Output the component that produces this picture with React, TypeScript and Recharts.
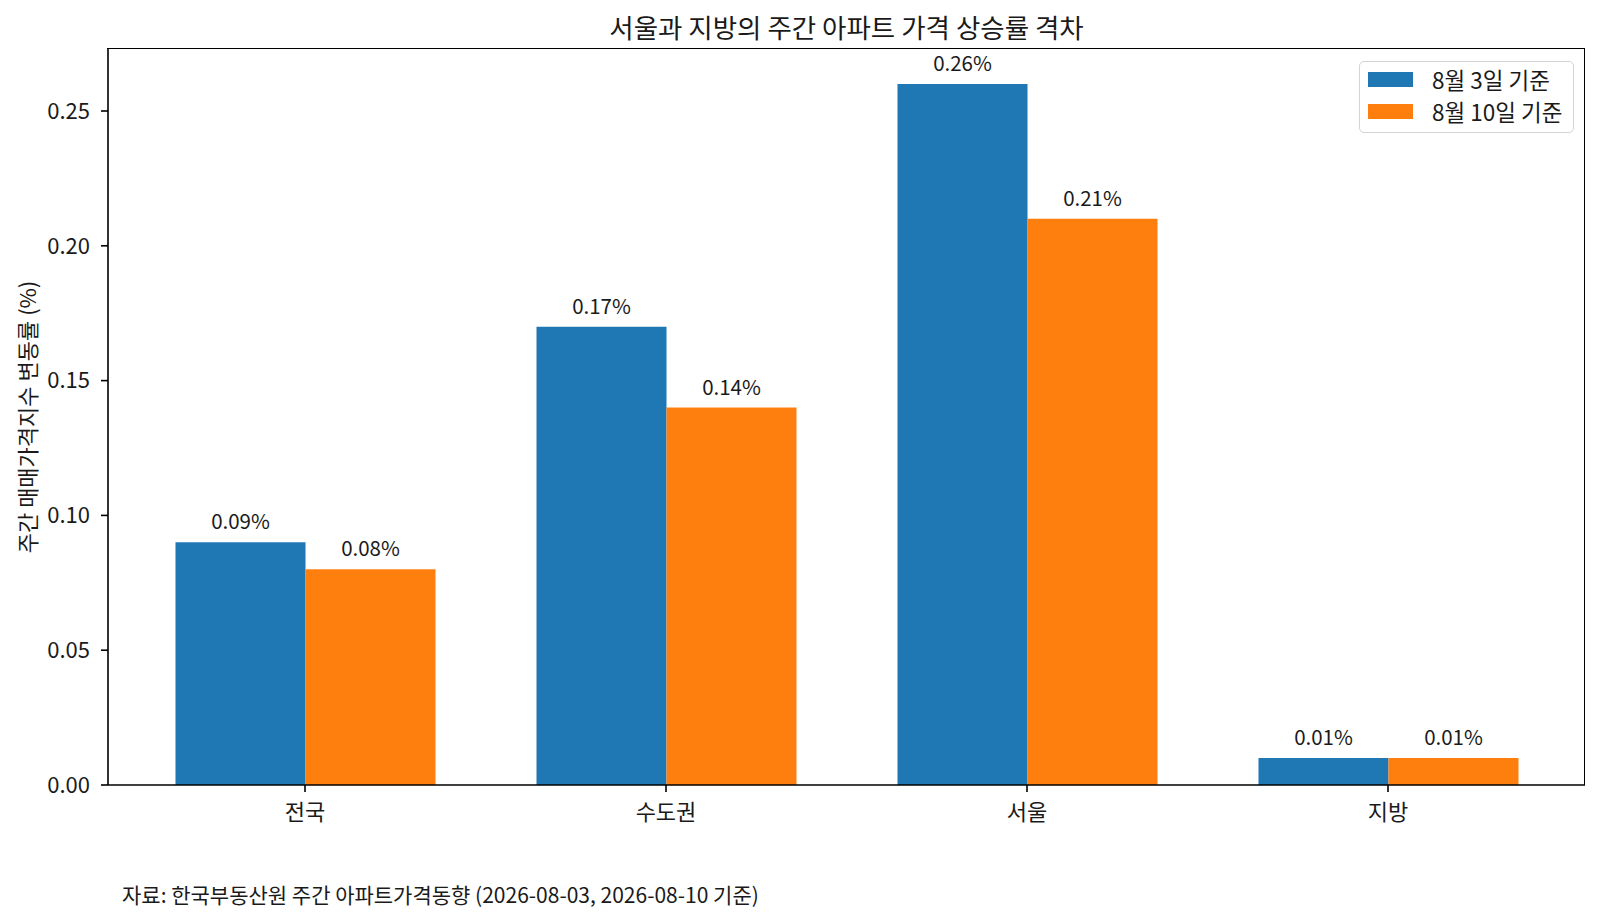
import React from 'react';
import { BarChart, Bar, XAxis, YAxis, LabelList } from 'recharts';

const regions = ['전국', '수도권', '서울', '지방'];
const aug3Values = [0.09, 0.17, 0.26, 0.01];
const aug10Values = [0.08, 0.14, 0.21, 0.01];
const yTicks = [0, 0.05, 0.1, 0.15, 0.2, 0.25];
const seriesNames = ['8월 3일 기준', '8월 10일 기준'];

const BLUE = '#1f77b4';
const ORANGE = '#ff7f0e';
const FONT = '"Noto Sans CJK KR", "Noto Sans", sans-serif';
const TEXT = '#1a1a1a';

const chartData = regions.map((name, i) => ({
  name,
  aug3: aug3Values[i],
  aug10: aug10Values[i],
}));

const ValueLabel = (props: any) => {
  const { x, y, width, value } = props;
  return (
    <text
      x={x + width / 2}
      y={y - 22}
      textAnchor="middle"
      dominantBaseline="central"
      fontSize={20.5}
      fill={TEXT}
    >
      {`${Number(value).toFixed(2)}%`}
    </text>
  );
};

const LegendBox = () => (
  <div
    style={{
      position: 'absolute',
      left: 1359,
      top: 61,
      boxSizing: 'border-box',
      width: 215,
      height: 72,
      border: '1.5px solid #d4d4d4',
      borderRadius: 5,
      background: 'rgba(255,255,255,0.85)',
      padding: '1px 0 0 8px',
    }}
  >
    {seriesNames.map((n, i) => (
      <div key={n} style={{ display: 'flex', alignItems: 'center', height: 32 }}>
        <span
          style={{
            display: 'inline-block',
            width: 45,
            height: 15,
            background: i === 0 ? BLUE : ORANGE,
            marginRight: 19,
          }}
        />
        <span style={{ fontSize: 22.5, color: TEXT, lineHeight: '32px' }}>{n}</span>
      </div>
    ))}
  </div>
);

const YLabel = (props: any) => {
  const { viewBox } = props;
  const cy = viewBox.y + viewBox.height / 2;
  return (
    <text
      x={26}
      y={cy}
      transform={`rotate(-90, 26, ${cy})`}
      textAnchor="middle"
      dominantBaseline="central"
      fontSize={22}
      fill={TEXT}
    >
      주간 매매가격지수 변동률 (%)
    </text>
  );
};

export default function App() {
  return (
    <div
      style={{
        position: 'absolute',
        left: 0,
        top: 0,
        width: 1600,
        height: 922,
        background: '#fff',
        fontFamily: FONT,
        color: TEXT,
      }}
    >
      <div
        style={{
          position: 'absolute',
          top: 9,
          left: 108,
          width: 1477,
          textAlign: 'center',
          fontSize: 26.5,
          lineHeight: '36px',
        }}
      >
        서울과 지방의 주간 아파트 가격 상승률 격차
      </div>
      <BarChart
        width={1600}
        height={922}
        data={chartData}
        margin={{ top: 49, right: 15, bottom: 97, left: 0 }}
        barGap={0}
        style={{ fontFamily: FONT }}
      >
        <XAxis
          dataKey="name"
          height={40}
          padding={{ left: 16.5, right: 16.5 }}
          tickSize={7}
          tickMargin={12}
          tick={{ fill: TEXT, fontSize: 22 }}
          axisLine={{ stroke: '#000', strokeWidth: 1.6 }}
          tickLine={{ stroke: '#000', strokeWidth: 1.6 }}
        />
        <YAxis
          width={108}
          domain={[0, 0.273]}
          ticks={yTicks}
          allowDataOverflow
          tickFormatter={(v: number) => v.toFixed(2)}
          tickSize={7}
          tickMargin={11}
          tick={{ fill: TEXT, fontSize: 22 }}
          axisLine={{ stroke: '#000', strokeWidth: 1.6 }}
          tickLine={{ stroke: '#000', strokeWidth: 1.6 }}
          label={<YLabel />}
        />
        <Bar dataKey="aug3" name={seriesNames[0]} fill={BLUE} barSize={130} isAnimationActive={false}>
          <LabelList dataKey="aug3" content={<ValueLabel />} />
        </Bar>
        <Bar dataKey="aug10" name={seriesNames[1]} fill={ORANGE} barSize={130} isAnimationActive={false}>
          <LabelList dataKey="aug10" content={<ValueLabel />} />
        </Bar>
      </BarChart>
      {/* top and right spines of the plot frame */}
      <div
        style={{
          position: 'absolute',
          left: 107.2,
          top: 48.2,
          width: 1477,
          height: 736,
          borderTop: '1.6px solid #000',
          borderRight: '1.6px solid #000',
          pointerEvents: 'none',
        }}
      />
      <LegendBox />
      <div
        style={{
          position: 'absolute',
          left: 122,
          top: 880,
          fontSize: 21,
          lineHeight: '28px',
          whiteSpace: 'nowrap',
        }}
      >
        자료: 한국부동산원 주간 아파트가격동향 (2026-08-03, 2026-08-10 기준)
      </div>
    </div>
  );
}
